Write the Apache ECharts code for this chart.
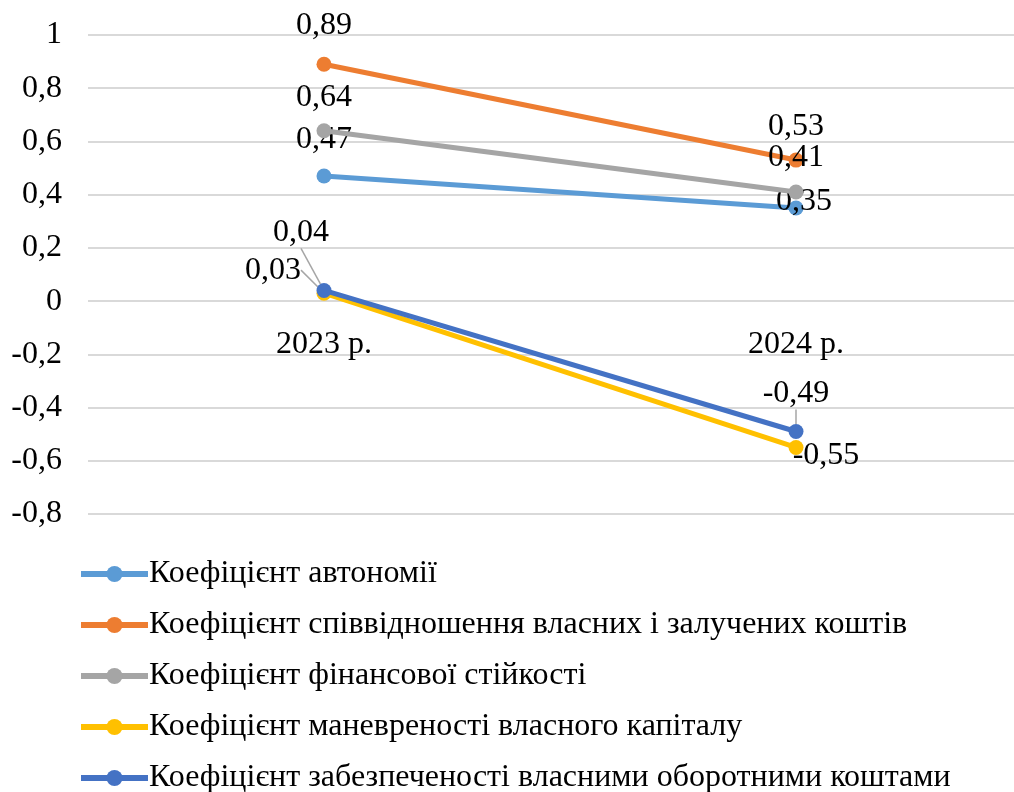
<!DOCTYPE html>
<html>
<head>
<meta charset="utf-8">
<script src="https://cdn.jsdelivr.net/npm/echarts@6/dist/echarts.min.js"></script>
<style>html,body{margin:0;padding:0;background:#fff;overflow:hidden}#c{width:1032px;height:820px}</style>
</head>
<body>
<div id="c"></div>
<script>
const categories = ['2023 р.', '2024 р.'];
const seriesNames = [
  'Коефіцієнт автономії',
  'Коефіцієнт співвідношення власних і залучених коштів',
  'Коефіцієнт фінансової стійкості',
  'Коефіцієнт маневреності власного капіталу',
  'Коефіцієнт забезпеченості власними оборотними коштами'
];
const autonomy = [0.47, 0.35];
const ownToBorrowed = [0.89, 0.53];
const finStability = [0.64, 0.41];
const maneuverability = [0.03, -0.55];
const workingCapital = [0.04, -0.49];
const yTicks = [-0.8, -0.6, -0.4, -0.2, 0, 0.2, 0.4, 0.6, 0.8, 1];

const colors = ['#5B9BD5', '#ED7D31', '#A5A5A5', '#FFC000', '#4472C4'];
const allData = [autonomy, ownToBorrowed, finStability, maneuverability, workingCapital];
// label offsets relative to point centre [dx, dy]
const labelOffsets = [
  [[0, -36], [8, -6]],
  [[0, -39], [0, -33]],
  [[0, -33], [0, -34]],
  [[-51, -23], [30, 8]],
  [[-23, -58], [0, -38]]
];
// which labels have a leader line
const leader = [
  [false, false],
  [false, false],
  [false, false],
  [true, false],
  [true, true]
];
const fmt = v => String(v).replace('.', ',');
const FONT = 'Liberation Serif';
const FS = 32;
const Y_MIN = -0.8, Y_MAX = 1, GRID_H = 479;

const series = allData.map((d, si) => ({
  name: seriesNames[si],
  type: 'line',
  data: d.map((v, i) => ({
    value: v,
    labelLine: { show: leader[si][i] }
  })),
  symbol: 'circle',
  symbolSize: 15,
  lineStyle: { width: 5, color: colors[si] },
  itemStyle: { color: colors[si] },
  z: 2 + si,
  label: {
    show: true,
    position: 'inside',
    formatter: p => fmt(p.value),
    fontFamily: FONT,
    fontSize: FS,
    color: '#000'
  },
  labelLine: { show: false, lineStyle: { color: '#A6A6A6', width: 1.5 } },
  labelLayout: function (params) {
    const o = labelOffsets[si][params.dataIndex];
    return { dx: o[0], dy: o[1] };
  }
}));

const chart = echarts.init(document.getElementById('c'), null, { renderer: 'canvas' });
chart.setOption({
  animation: false,
  backgroundColor: '#fff',
  color: colors,
  grid: { left: 88, top: 35, right: 0, height: GRID_H, containLabel: false },
  xAxis: {
    type: 'category',
    data: categories,
    boundaryGap: true,
    position: 'bottom',
    offset: -GRID_H * (0 - Y_MIN) / (Y_MAX - Y_MIN),
    axisLine: { show: false, onZero: false },
    axisTick: { show: false },
    axisLabel: { fontFamily: FONT, fontSize: FS, color: '#000', margin: 27 }
  },
  yAxis: {
    type: 'value',
    min: Y_MIN,
    max: Y_MAX,
    interval: 0.2,
    axisLine: { show: false },
    axisTick: { show: false },
    splitLine: { lineStyle: { color: '#D9D9D9', width: 2 } },
    axisLabel: {
      fontFamily: FONT, fontSize: FS, color: '#000', margin: 26,
      formatter: v => fmt(Math.round(v * 10) / 10)
    }
  },
  legend: {
    orient: 'vertical',
    left: 78,
    top: 558,
    padding: 0,
    itemWidth: 67,
    itemHeight: 20,
    itemGap: 19,
    data: seriesNames,
    lineStyle: { width: 6 },
    textStyle: { fontFamily: FONT, fontSize: FS, color: '#000', padding: [0, 0, 0, -4] }
  },
  series: series
});
</script>
</body>
</html>
